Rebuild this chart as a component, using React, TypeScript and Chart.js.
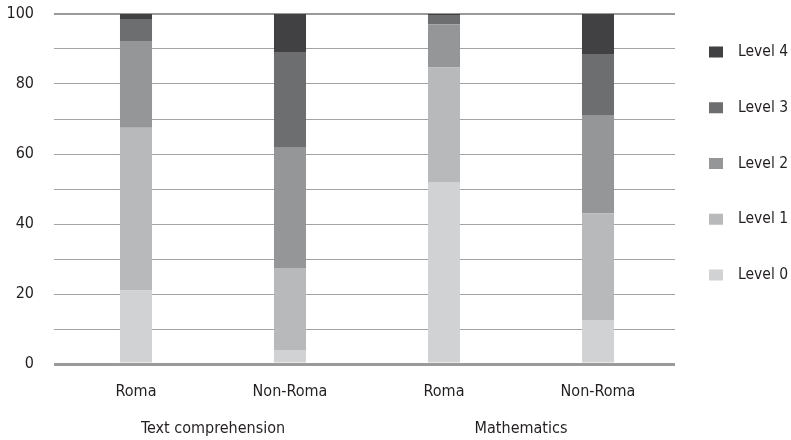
import React, { useEffect, useRef } from "react";
import { Chart, registerables } from "chart.js";

Chart.register(...registerables);

const categories = ["Roma", "Non-Roma", "Roma", "Non-Roma"];
const groups = ["Text comprehension", "Mathematics"];
const levelNames = ["Level 0", "Level 1", "Level 2", "Level 3", "Level 4"];
const level0 = [21, 4, 52, 12.6];
const level1 = [46.5, 23.4, 32.7, 30.4];
const level2 = [24.8, 34.4, 12.4, 27.9];
const level3 = [6.3, 27.1, 2.6, 17.7];
const level4 = [1.4, 11.1, 0.3, 11.4];
const levelColors = ["#d1d2d4", "#b8b9bb", "#959698", "#6d6e70", "#414042"];
const yTicks = [0, 20, 40, 60, 80, 100];

const FONT = "'DejaVu Sans Condensed', 'Liberation Sans Narrow', 'DejaVu Sans', sans-serif";
const TEXT = "#231f20";

const legendPlugin = {
  id: "sideLegend",
  afterDraw(chart: any) {
    const ctx = chart.ctx;
    const area = chart.chartArea;
    const ds = chart.data.datasets;
    ctx.save();
    ctx.font = `15.5px ${FONT}`;
    ctx.textBaseline = "middle";
    ctx.textAlign = "left";
    const x0 = area.right + 34;
    const y0 = area.top + 38;
    const step = 55.75;
    for (let k = 0; k < ds.length; k++) {
      const i = ds.length - 1 - k;
      const cy = y0 + k * step;
      ctx.fillStyle = ds[i].backgroundColor;
      ctx.fillRect(x0, cy - 5.5, 14, 11);
      ctx.fillStyle = TEXT;
      ctx.fillText(ds[i].label, x0 + 29, cy);
    }
    ctx.restore();
  },
};

export default function App() {
  const ref = useRef<HTMLCanvasElement | null>(null);
  useEffect(() => {
    if (!ref.current) return;
    const values = [level0, level1, level2, level3, level4];
    const chart = new Chart(ref.current, {
      type: "bar",
      data: {
        labels: categories,
        datasets: values.map((v, i) => ({
          label: levelNames[i],
          data: v,
          backgroundColor: levelColors[i],
          borderWidth: 0,
          xAxisID: "x",
          barPercentage: 0.208,
          categoryPercentage: 1,
        })),
      },
      options: {
        animation: false,
        responsive: true,
        maintainAspectRatio: false,
        layout: { padding: { top: 14, right: 116, left: 0, bottom: 0 } },
        plugins: { legend: { display: false }, tooltip: { enabled: false } },
        scales: {
          x: {
            stacked: true,
            position: "bottom",
            grid: { display: false },
            border: { display: false },
            ticks: { color: TEXT, font: { family: FONT, size: 16 }, padding: 10, maxRotation: 0 },
            afterFit: (s: any) => { s.height = 40; },
          },
          x2: {
            type: "category",
            labels: groups,
            position: "bottom",
            offset: true,
            grid: { display: false },
            border: { display: false },
            ticks: { color: TEXT, font: { family: FONT, size: 16 }, padding: 7, maxRotation: 0 },
            afterFit: (s: any) => { s.height = 36; },
          },
          y: {
            stacked: true,
            min: 0,
            max: 100,
            ticks: {
              stepSize: 10,
              color: TEXT,
              font: { family: FONT, size: 16 },
              padding: 20,
              callback: (v: any) => (yTicks.includes(Number(v)) ? String(v) : ""),
            },
            grid: {
              drawTicks: true,
              tickLength: 5,
              color: (c: any) => (c.tick && (c.tick.value === 0 || c.tick.value === 100) ? "#9a9a9a" : "#a3a3a3"),
              lineWidth: (c: any) => (c.tick && c.tick.value === 0 ? 3 : c.tick && c.tick.value === 100 ? 2 : 1),
            },
            border: { display: false },
            afterFit: (s: any) => {
              s.width = 59;
              s.paddingTop = 0;
              s.paddingBottom = 0;
            },
          },
        },
      },
      plugins: [legendPlugin],
    });
    return () => chart.destroy();
  }, []);
  return (
    <div style={{ position: "absolute", left: 0, top: 0, width: 791, height: 440 }}>
      <canvas ref={ref} />
    </div>
  );
}
